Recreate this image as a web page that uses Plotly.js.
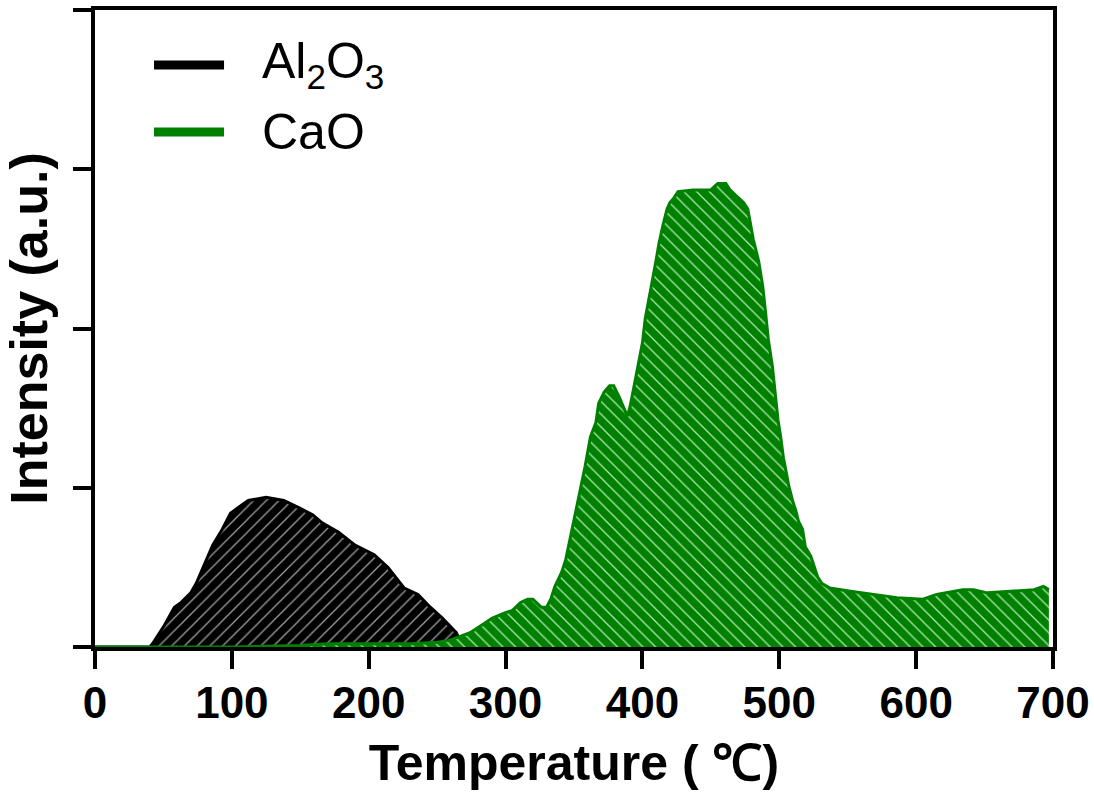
<!DOCTYPE html>
<html>
<head>
<meta charset="utf-8">
<script src="https://cdn.plot.ly/plotly-3.0.1.min.js"></script>
<style>
  html, body { margin: 0; padding: 0; background: #fff; }
  #chart { width: 1094px; height: 800px; }
</style>
</head>
<body>
<div id="chart"></div>
<script>
// ---- data ----
const seriesNames = ["Al<sub>2</sub>O<sub>3</sub>", "CaO"];
const seriesColors = ["#000000", "#008000"];
const hatchColors = ["#a0a0a0", "#b0e8b0"];

const tempAl2O3 = [0, 40, 42, 50, 58, 63, 70, 74, 79, 86, 93, 99, 107, 112, 125, 138, 150, 159, 166, 178, 190, 204, 214, 226, 236, 245, 254, 264, 268, 270];
const intAl2O3  = [0, 0, 0.02, 0.126, 0.25, 0.28, 0.34, 0.40, 0.50, 0.64, 0.74, 0.84, 0.89, 0.92, 0.94, 0.92, 0.87, 0.83, 0.78, 0.72, 0.64, 0.58, 0.50, 0.37, 0.33, 0.25, 0.18, 0.09, 0.02, 0];

const tempCaO = [0, 50, 100, 150, 170, 200, 230, 250, 258, 265, 274, 283, 290, 298, 305, 311, 316, 320, 326, 330, 333, 336, 341, 344, 347, 352, 358, 362, 366, 368, 372, 376, 379, 383, 386, 389, 391, 393, 396, 400, 402, 404, 407, 410, 412, 415, 418, 420, 423, 426, 437, 450, 455, 461, 464, 469, 474, 477, 479, 481, 485, 488, 490, 492, 495, 497, 499, 501, 503, 505, 507, 510, 512, 514, 517, 519, 523, 525, 528, 531, 537, 552, 569, 586, 605, 615, 634, 642, 652, 671, 686, 693, 697];
const intCaO  = [0, 0, 0, 0.01, 0.02, 0.02, 0.02, 0.03, 0.04, 0.06, 0.09, 0.14, 0.18, 0.21, 0.23, 0.28, 0.30, 0.30, 0.25, 0.25, 0.30, 0.38, 0.47, 0.55, 0.67, 0.88, 1.13, 1.32, 1.41, 1.53, 1.60, 1.64, 1.64, 1.57, 1.51, 1.45, 1.51, 1.60, 1.74, 1.91, 2.06, 2.16, 2.29, 2.43, 2.53, 2.65, 2.75, 2.79, 2.82, 2.86, 2.87, 2.87, 2.91, 2.91, 2.87, 2.83, 2.79, 2.75, 2.64, 2.56, 2.42, 2.26, 2.10, 1.93, 1.76, 1.60, 1.43, 1.32, 1.19, 1.10, 1.01, 0.91, 0.86, 0.79, 0.74, 0.63, 0.57, 0.52, 0.44, 0.40, 0.37, 0.35, 0.33, 0.31, 0.30, 0.33, 0.36, 0.36, 0.34, 0.35, 0.36, 0.38, 0.36];

const xTickVals = [0, 100, 200, 300, 400, 500, 600, 700];
const xTickText = ["0", "100", "200", "300", "400", "500", "600", "700"];
const yTickVals = [0, 1, 2, 3, 4];

const xTitle = "Temperature ( ℃)";
const yTitle = "Intensity (a.u.)";

// ---- traces ----
const FONT = "'Liberation Sans', Arial, sans-serif";
const xs = [tempAl2O3, tempCaO];
const ys = [intAl2O3, intCaO];
const shapes = ["/", "\\"];

const traces = xs.map((x, i) => ({
  type: "scatter",
  mode: "lines",
  x: x,
  y: ys[i],
  name: seriesNames[i],
  showlegend: false,
  line: { color: seriesColors[i], width: 3, shape: "linear" },
  fill: "tozeroy",
  fillcolor: seriesColors[i],
  fillpattern: {
    shape: shapes[i],
    bgcolor: seriesColors[i],
    fgcolor: hatchColors[i],
    size: 9,
    solidity: 0.14,
    fillmode: "replace"
  },
  hoverinfo: "x+y+name"
}));

// ---- legend drawn as line samples + labels ----
const legendY = [0.9137, 0.8085];
const legShapes = seriesColors.map((c, i) => ({
  type: "line", xref: "paper", yref: "paper",
  x0: 0.0616, x1: 0.1347, y0: legendY[i], y1: legendY[i],
  line: { color: c, width: 9 }
}));
const legAnn = seriesNames.map((n, i) => ({
  xref: "paper", yref: "paper", x: 0.172, y: legendY[i],
  xanchor: "left", yanchor: "middle", showarrow: false,
  text: n, font: { family: FONT, size: 50, color: "#000" }
}));

const layout = {
  width: 1094, height: 800,
  margin: { l: 95, r: 41, t: 10, b: 153 },
  paper_bgcolor: "#fff", plot_bgcolor: "#fff",
  showlegend: false,
  xaxis: {
    range: [0, 700],
    tickvals: xTickVals, ticktext: xTickText,
    ticks: "outside", ticklen: 18, tickwidth: 4, tickcolor: "#000",
    ticklabelstandoff: -4,
    showline: true, linewidth: 4, linecolor: "#000", mirror: true,
    showgrid: false, zeroline: false,
    tickfont: { family: FONT, size: 44, color: "#000", weight: "bold" },
    title: { text: "<b>" + xTitle + "</b>", font: { family: FONT, size: 50, color: "#000" }, standoff: 20 }
  },
  yaxis: {
    range: [0, 4],
    tickvals: yTickVals,
    showticklabels: false,
    ticks: "outside", ticklen: 18, tickwidth: 4, tickcolor: "#000",
    showline: true, linewidth: 4, linecolor: "#000", mirror: true,
    showgrid: false, zeroline: false,
    title: { text: "<b>" + yTitle + "</b>", font: { family: FONT, size: 52, color: "#000" }, standoff: 10 }
  },
  shapes: legShapes,
  annotations: legAnn
};

Plotly.newPlot("chart", traces, layout, { displayModeBar: false, staticPlot: true });
</script>
</body>
</html>
